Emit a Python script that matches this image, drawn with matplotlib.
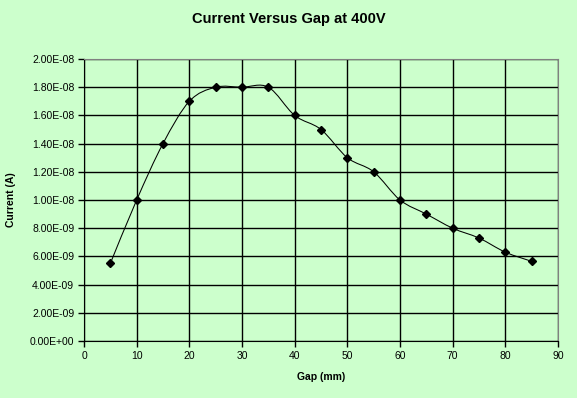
"""Current versus gap at 400V, Excel-style smoothed line."""
import matplotlib
matplotlib.use('Agg')
from matplotlib import pyplot as plt
from matplotlib.path import Path
from matplotlib.patches import PathPatch
from matplotlib.ticker import FuncFormatter


#
# Data
#
gap = [5, 10, 15, 20, 25, 30, 35, 40, 45, 50, 55, 60, 65, 70, 75, 80, 85]
current = [5.5e-9, 1.0e-8, 1.4e-8, 1.7e-8, 1.8e-8, 1.8e-8, 1.8e-8, 1.6e-8,
           1.5e-8, 1.3e-8, 1.2e-8, 1.0e-8, 9.0e-9, 8.0e-9, 7.3e-9, 6.3e-9,
           5.65e-9]
x_ticks = [0, 10, 20, 30, 40, 50, 60, 70, 80, 90]
y_ticks = [0, 2e-9, 4e-9, 6e-9, 8e-9, 1e-8, 1.2e-8, 1.4e-8, 1.6e-8, 1.8e-8, 2e-8]

bg = '#CCFFCC'

plt.rcParams['font.family'] = ['Liberation Sans', 'DejaVu Sans']


#
# Plot
#
fig = plt.figure(figsize=(5.77, 3.98), dpi=100, facecolor=bg)
ax = fig.add_axes([84/577, 1 - 341/398, (558-84)/577, (341-59)/398])
ax.set_facecolor(bg)

## Smoothed line as cubic Bezier segments (Excel-like smoothing)
n = len(gap)
verts = [(gap[0], current[0])]
codes = [Path.MOVETO]
for i in range(n - 1):
    x0, y0 = gap[max(i - 1, 0)], current[max(i - 1, 0)]
    x1, y1 = gap[i], current[i]
    x2, y2 = gap[i + 1], current[i + 1]
    x3, y3 = gap[min(i + 2, n - 1)], current[min(i + 2, n - 1)]
    verts += [(x1 + (x2 - x0) / 6, y1 + (y2 - y0) / 6),
              (x2 - (x3 - x1) / 6, y2 - (y3 - y1) / 6),
              (x2, y2)]
    codes += [Path.CURVE4] * 3
ax.add_patch(PathPatch(Path(verts, codes), facecolor='none',
                       edgecolor='black', lw=0.75, zorder=3))
ax.plot(gap, current, linestyle='none', marker='D', ms=4, color='black',
        zorder=4, clip_on=False)

ax.set_xlim(0, 90)
ax.set_ylim(0, 2e-8)
ax.set_xticks(x_ticks)
ax.set_yticks(y_ticks)
ax.yaxis.set_major_formatter(FuncFormatter(lambda v, p: '%.2E' % v))
ax.grid(True, color='black', lw=1.0)
ax.set_axisbelow(True)
for s in ['top', 'right']:
    ax.spines[s].set_color('#808080')
for s in ['left', 'bottom']:
    ax.spines[s].set_color('black')
ax.tick_params(direction='out', length=4, width=1, labelsize=7.5,
               colors='black', pad=3)

ax.set_xlabel('Gap (mm)', fontsize=7.5, fontweight='bold', labelpad=8)
ax.set_ylabel('Current (A)', fontsize=7.5, fontweight='bold', labelpad=10)
fig.text(0.5, 1 - 19/398, 'Current Versus Gap at 400V', ha='center',
         va='center', fontsize=10.5, fontweight='bold')

plt.savefig('out.png', dpi=100, facecolor=bg)
